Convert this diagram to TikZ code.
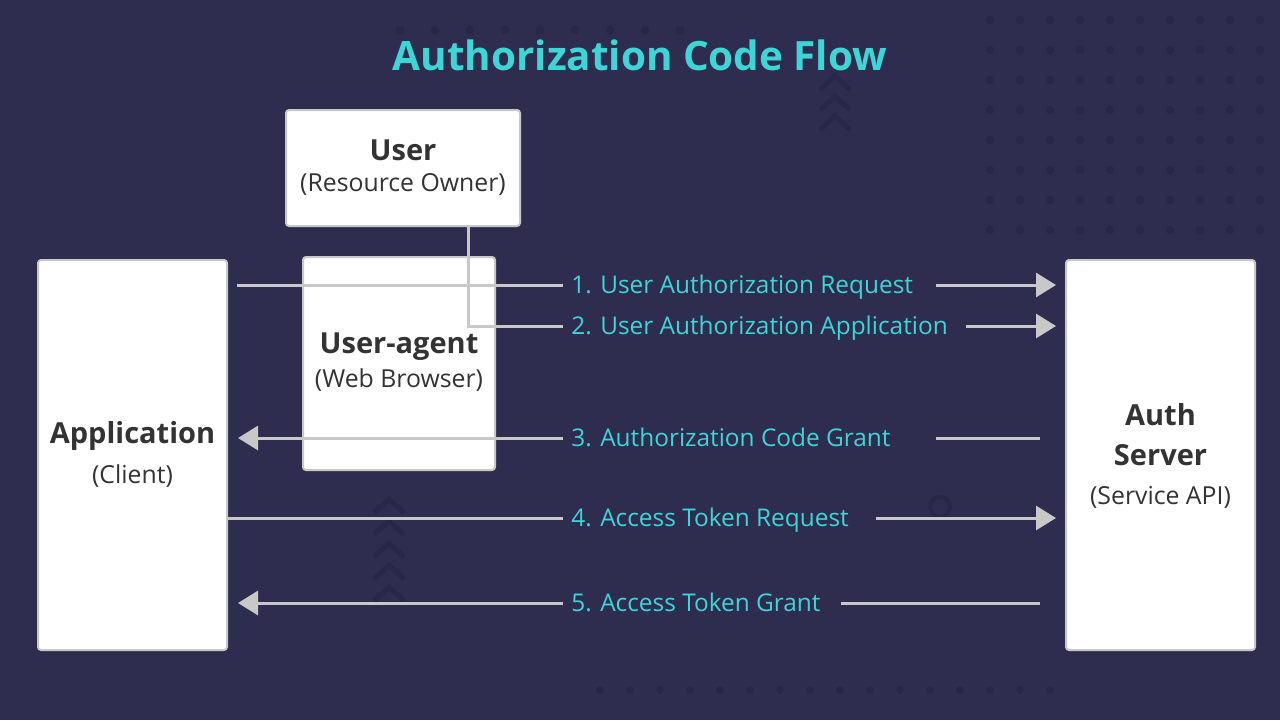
\documentclass[tikz,border=0pt]{standalone}
\usepackage{fontspec}
\setmainfont{Open Sans}
\usetikzlibrary{arrows.meta}
\definecolor{bg}{HTML}{2E2D4F}
\definecolor{deco}{HTML}{282749}
\definecolor{cyanT}{HTML}{3DD5D6}
\definecolor{lineG}{HTML}{C8C8C8}
\definecolor{boxText}{HTML}{333333}
\begin{document}
\begin{tikzpicture}[x=0.5pt,y=-0.5pt,
  box/.style={draw=lineG, line width=1pt, fill=white, rounded corners=1.5pt, inner sep=0pt},
  head/.style={text=boxText, font=\fontsize{14.5}{16}\selectfont\bfseries, inner sep=0pt},
  sub/.style={text=boxText, font=\fontsize{12.4}{14}\selectfont, inner sep=0pt},
  flow/.style={draw=lineG, line width=1.5pt},
  tip/.style={-{Triangle[length=10pt,width=12pt]}},
  lbl/.style={text=cyanT, font=\fontsize{12.2}{14}\selectfont, anchor=west, inner sep=0pt, text height=8.7pt, text depth=0pt},
  chev/.style={draw=deco, line width=2.5pt}]
\fill[bg] (0,0) rectangle (1280,720);
\useasboundingbox (0,0) rectangle (1280,720);
% background decoration
\foreach \x in {400,435,...,690} \fill[deco] (\x,30) circle (2.2pt);
\foreach \x in {990,1020,...,1270} \foreach \y in {20,50,...,240} \fill[deco] (\x,\y) circle (2.2pt);
\foreach \x in {55,84,113} \foreach \y in {410,435,...,650} \fill[deco] (\x,\y) circle (2pt);
\foreach \x in {600,630,...,1060} \fill[deco] (\x,690) circle (2pt);
\foreach \y in {82,102,122} \draw[chev] (820,\y+8) -- (835,\y-6) -- (850,\y+8);
\foreach \y in {505,527,549,571,593} \draw[chev] (374,\y+8) -- (389,\y-6) -- (404,\y+8);
\draw[deco, line width=2pt] (940,507) circle (5pt);
% title
\node[text=cyanT, font=\fontsize{20.2}{24}\selectfont\bfseries, inner sep=0pt] (title) at (640,55) {Authorization Code Flow};
% boxes
\node[box, minimum width=117pt, minimum height=58pt] (user) at (403,168) {};
\node[box, minimum width=96pt, minimum height=106.5pt] (agent) at (399,363.5) {};
\node[box, minimum width=94.5pt, minimum height=195pt] (app) at (132.5,455) {};
\node[box, minimum width=94.5pt, minimum height=195pt] (auth) at (1160.5,455) {};
% box texts
\node[head] (userT) at (403,150) {User};
\node[sub] (userS) at (403,184) {(Resource Owner)};
\node[head] (agentT) at (399,347) {User-agent};
\node[sub] (agentS) at (399,380) {(Web Browser)};
\node[head] (appT) at (132.5,436) {Application};
\node[sub] (appS) at (132.5,476) {(Client)};
\node[head] (authT1) at (1160.5,415) {Auth};
\node[head] (authT2) at (1160.5,455) {Server};
\node[sub] (authS) at (1160.5,497) {(Service API)};
% labels
\node[lbl] (l1) at (571,285) {1. User Authorization Request};
\node[lbl] (l2) at (571,326) {2. User Authorization Application};
\node[lbl] (l3) at (571,438) {3. Authorization Code Grant};
\node[lbl] (l4) at (571,518) {4. Access Token Request};
\node[lbl] (l5) at (571,603) {5. Access Token Grant};
\coordinate (r1) at (936,285);
\coordinate (r2) at (966,326);
\coordinate (r3) at (936,438);
\coordinate (r4) at (876,518);
\coordinate (r5) at (841,603);
% flows
\draw[flow] (app.east |- l1.west) ++(9,0) -- ([xshift=-4pt]l1.west);
\draw[flow, tip, shorten >=4.5pt] (r1) -- (auth.west |- r1);
\draw[flow] (user.south) ++(65,0) |- ([xshift=-4pt]l2.west);
\draw[flow, tip, shorten >=4.5pt] (r2) -- (auth.west |- r2);
\draw[flow, tip, shorten >=5pt] ([xshift=-4pt]l3.west) -- (app.east |- l3.west);
\draw[flow, shorten <=12.5pt] (auth.west |- r3) -- (r3);
\draw[flow] (app.east |- l4.west) -- ([xshift=-4pt]l4.west);
\draw[flow, tip, shorten >=4.5pt] (r4) -- (auth.west |- r4);
\draw[flow, tip, shorten >=5pt] ([xshift=-4pt]l5.west) -- (app.east |- l5.west);
\draw[flow, shorten <=12.5pt] (auth.west |- r5) -- (r5);
\end{tikzpicture}
\end{document}
